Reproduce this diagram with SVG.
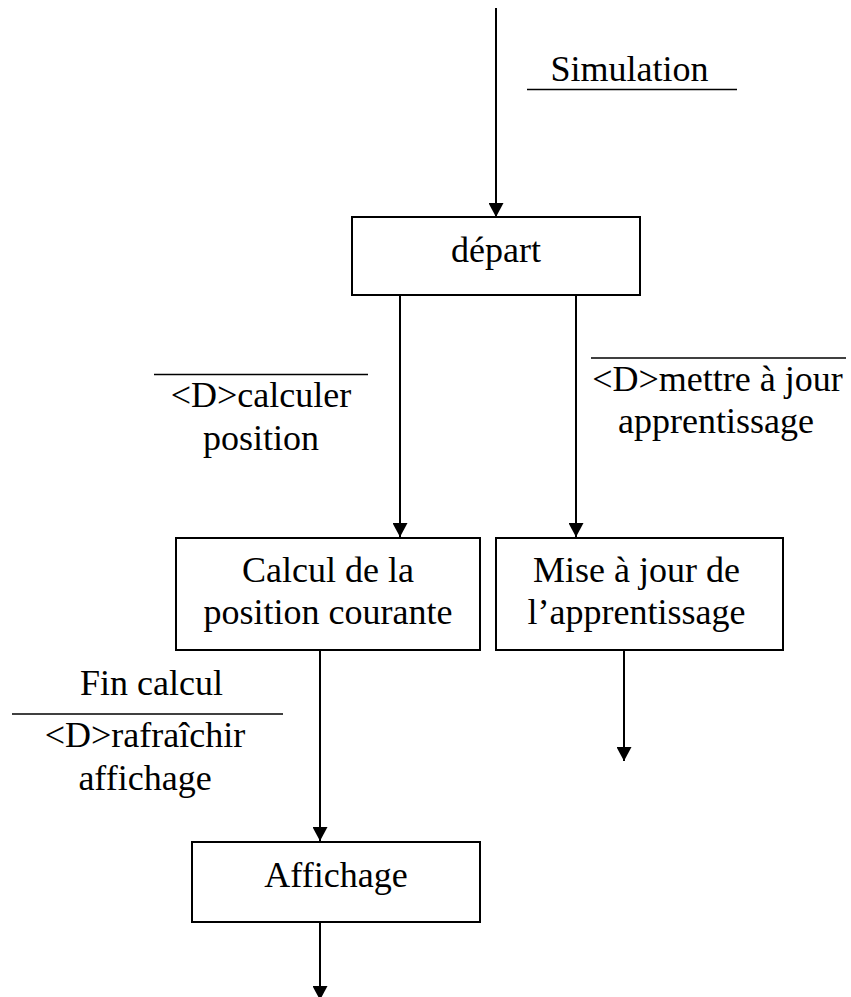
<svg xmlns="http://www.w3.org/2000/svg" width="851" height="997" viewBox="0 0 851 997">
  <style>
    .box { fill: #ffffff; stroke: #000000; stroke-width: 2; }
    .edge { fill: none; stroke: #000000; stroke-width: 2; marker-end: url(#arrow); }
    .rule { stroke: #000000; stroke-width: 1.6; }
    text { font-family: "Liberation Serif", "Times New Roman", serif; font-size: 36px; fill: #000000; text-anchor: middle; }
  </style>
  <defs>
    <marker id="arrow" viewBox="0 0 14 15" refX="14" refY="7.5" markerWidth="14" markerHeight="15" markerUnits="userSpaceOnUse" orient="auto">
      <path d="M0,0 L14,7.5 L0,15 z" fill="#000000"/>
    </marker>
  </defs>
  <rect width="851" height="997" fill="#ffffff"/>

  <!-- transitions -->
  <g id="connectors">
    <line class="edge" x1="496" y1="8" x2="496" y2="217"/>
    <line class="edge" x1="400" y1="295" x2="400" y2="537"/>
    <line class="edge" x1="576" y1="295" x2="576" y2="537"/>
    <line class="edge" x1="320" y1="650" x2="320" y2="841"/>
    <line class="edge" x1="624" y1="650" x2="624" y2="761"/>
    <line class="edge" x1="320" y1="922" x2="320" y2="1000"/>
  </g>

  <!-- states -->
  <g id="depart">
    <rect class="box" x="352" y="217" width="288" height="78"/>
    <text x="496" y="262">départ</text>
  </g>
  <g id="calcul-position">
    <rect class="box" x="176" y="538" width="304" height="112"/>
    <text x="328" y="582">Calcul de la</text>
    <text x="328" y="624">position courante</text>
  </g>
  <g id="mise-a-jour">
    <rect class="box" x="496" y="538" width="287" height="112"/>
    <text x="636.5" y="582">Mise à jour de</text>
    <text x="636.5" y="624">l’apprentissage</text>
  </g>
  <g id="affichage">
    <rect class="box" x="192" y="842" width="288" height="80"/>
    <text x="336" y="887">Affichage</text>
  </g>

  <!-- event / action labels -->
  <g id="labels">
    <g id="label-simulation">
      <text x="629.5" y="81">Simulation</text>
      <line class="rule" x1="527" y1="89.5" x2="737" y2="89.5"/>
    </g>
    <g id="label-calculer">
      <line class="rule" x1="154" y1="374.5" x2="368" y2="374.5"/>
      <text x="261" y="407">&lt;D&gt;calculer</text>
      <text x="261" y="450">position</text>
    </g>
    <g id="label-apprentissage">
      <line class="rule" x1="591" y1="358" x2="846" y2="358"/>
      <text x="717.5" y="390.5">&lt;D&gt;mettre à jour</text>
      <text x="716" y="433">apprentissage</text>
    </g>
    <g id="label-fin-calcul">
      <text x="151.5" y="695">Fin calcul</text>
      <line class="rule" x1="12" y1="714" x2="283" y2="714"/>
      <text x="145" y="747">&lt;D&gt;rafraîchir</text>
      <text x="145" y="790">affichage</text>
    </g>
  </g>
</svg>
